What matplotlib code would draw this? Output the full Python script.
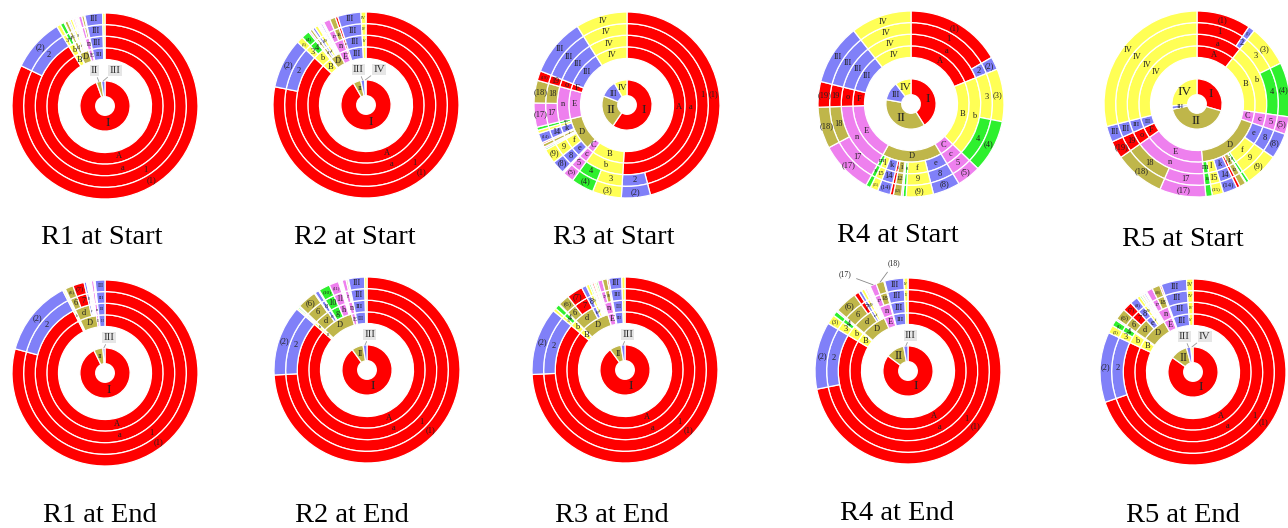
import numpy as np
import matplotlib.pyplot as plt
from matplotlib.patches import Wedge

plt.rcParams["font.family"] = ["Liberation Serif", "DejaVu Serif"]

# hierarchy: every leaf (ring 3/4) with its parents in ring 1 and ring 2
LEAVES = [str(n) for n in range(1, 20)] + ["III", "IV"]
OUTER = [f"({n})" for n in range(1, 20)] + ["III", "IV"]
UPPER = ["A", "A", "B", "B", "C", "D", "D", "D", "D", "D", "D", "D", "D",
         "D", "D", "D", "E", "E", "F", "III", "IV"]
LOWER = ["a", "a", "b", "b", "c", "d", "d", "e", "f", "g", "h", "i", "j",
         "k", "l", "m", "n", "n", "o", "III", "IV"]
CORE = ["I", "II", "III", "IV"]

# angular share of each leaf (degrees), same order as LEAVES
r1_start = [294, 33, 2.5, 2.5, 0.5, 2, 0.5, 1, 1.5, 0.5, 1, 0.5, 0.5, 0.5,
            0.5, 0.5, 2, 1.5, 0.5, 11, 1.5]
r2_start = [270, 30, 4, 5, 1, 1.5, 0.5, 1.5, 2, 0.5, 0.5, 0.5, 0.5, 1,
            0.5, 0.5, 4, 3.5, 1.5, 14, 3]
r3_start = [164, 18, 18, 14, 7, 0.5, 0.5, 8, 9, 1, 1, 2, 1, 6, 2, 2,
            15, 14, 6, 36, 32]
r4_start = [60, 8, 33, 33, 15, 0, 0, 17, 17, 2, 1, 5, 2, 8, 5, 3,
            33, 26, 16, 38, 38]
r5_start = [34, 4, 26, 34, 11, 0, 0, 16, 21, 2, 0.5, 4, 2, 9, 7, 4,
            29, 31.5, 11, 10, 104]
r1_end = [280, 47, 1, 0.5, 0.3, 5, 7, 1.5, 0.5, 0.3, 0.3, 0.5, 0.3, 0.5,
          0.3, 0.3, 1.5, 0.5, 0.3, 6, 0]
r2_end = [266, 44, 1, 1, 0.5, 12, 0.5, 2.5, 0.5, 7, 6, 0.5, 0.5, 0.5,
          0.5, 0.3, 2.5, 1, 0.5, 10, 1.5]
r3_end = [265, 42, 2, 3, 0.5, 7, 10, 3, 2, 1, 0.5, 0.5, 1, 0.5, 1, 1,
          3, 3, 1, 8, 2]
r4_end = [258, 42, 6, 3, 1, 14, 3, 2, 2, 0.5, 1, 0.5, 0.5, 0.5, 0.5, 0.5,
          4, 5, 0.5, 12, 2.5]
r5_end = [251, 44, 5, 4, 1, 7, 6, 5, 2, 1, 0.5, 1, 0.5, 1, 0.5, 0.5,
          4, 5, 1, 16, 4]

# inner ring I..IV
r1_start_core = [340, 12, 8, 0]
r2_start_core = [330, 18, 9, 3]
r3_start_core = [214, 77, 39, 30]
r4_start_core = [148, 132, 43, 37]
r5_start_core = [106, 152, 8, 94]
r1_end_core = [334, 21, 5, 0]
r2_end_core = [324, 27, 9, 0]
r3_end_core = [324, 27, 9, 0]
r4_end_core = [307, 43, 10, 0]
r5_end_core = [305, 40, 10, 5]

TITLES = ["R1 at Start", "R2 at Start", "R3 at Start", "R4 at Start", "R5 at Start",
          "R1 at End", "R2 at End", "R3 at End", "R4 at End", "R5 at End"]

RED, BLUE, YELLOW = "#ff0000", "#8080f8", "#ffff55"
GREEN, PINK, OLIVE = "#2ef02e", "#ee80ee", "#bfb64a"
CYCLE = [RED, BLUE, YELLOW, GREEN, PINK, OLIVE]
CORE_COLORS = {"I": RED, "II": OLIVE, "III": BLUE, "IV": YELLOW}

W, H, R, PAD = 1288, 528, 93, 1.3
TXT = "#222222"


def leaf_color(i):
    lab = LEAVES[i]
    if lab in CORE_COLORS:
        return CORE_COLORS[lab]
    return CYCLE[(int(lab) - 1) % 6]


def group_color(names, lab):
    # parent takes the colour of its first child in the fixed hierarchy
    return leaf_color(names.index(lab))


def fit_size(label, width, rm, cap):
    arc = np.radians(width) * rm * R
    return min(cap, arc / (0.5 * 1.389 * max(len(label), 1)))


def wedge(ax, start, end, r_out, width, color):
    ax.add_patch(Wedge((0, 0), r_out, 90 - end, 90 - start, width=width,
                       facecolor=color, edgecolor="white", lw=0.9))


def draw_rings(ax, values, callouts=None):
    callouts = callouts or {}
    for k, names in enumerate([UPPER, LOWER, LEAVES, OUTER]):
        r_in = 0.5 + k * 0.125
        groups = []
        for lab, v in zip(names, values):
            if v <= 0:
                continue
            if groups and groups[-1][0] == lab:
                groups[-1][1] += v
            else:
                groups.append([lab, v])
        total = sum(values)
        pos = 0.0
        for lab, v in groups:
            a0 = pos / total * 360
            a1 = (pos + v) / total * 360
            pos += v
            wedge(ax, a0, a1, r_in + 0.125, 0.125, group_color(names, lab))
            mid = np.radians((a0 + a1) / 2)
            rm = r_in + 0.0625
            if lab in callouts:
                ax.annotate(lab, xy=(np.sin(mid), np.cos(mid)), xytext=callouts[lab],
                            fontsize=5.5, color=TXT, ha="center", va="center",
                            arrowprops=dict(arrowstyle="-", color="#888888", lw=0.6,
                                            shrinkA=2, shrinkB=0))
                continue
            fs = fit_size(lab, a1 - a0, rm, 6)
            if fs >= 2.3:
                ax.text(rm * np.sin(mid), rm * np.cos(mid), lab, fontsize=fs,
                        color=TXT, ha="center", va="center")


def draw_core(ax, values):
    total = sum(values)
    pos = 0.0
    small = []
    for lab, v in zip(CORE, values):
        if v <= 0:
            continue
        a0 = pos / total * 360
        a1 = (pos + v) / total * 360
        pos += v
        wedge(ax, a0, a1, 0.27, 0.17, CORE_COLORS[lab])
        m = (a0 + a1) / 2
        if (a1 - a0) < 15 and (m > 300 or m < 60):
            small.append((lab, m))
            continue
        fs = max(5, fit_size(lab, a1 - a0, 0.185, 9.5))
        mid = np.radians(m)
        ax.text(0.185 * np.sin(mid), 0.185 * np.cos(mid), lab, fontsize=fs,
                color=TXT, ha="center", va="center")
    if small:
        xc = np.mean([0.4 * np.sin(np.radians(m)) for _, m in small]) + 0.06
        n = len(small)
        for i, (lab, m) in enumerate(small):
            x = xc + (i - (n - 1) / 2) * 0.22
            mid = np.radians(m)
            ax.annotate(lab, xy=(0.27 * np.sin(mid), 0.27 * np.cos(mid)),
                        xytext=(x, 0.38), fontsize=8, color="#333333",
                        ha="center", va="center",
                        bbox=dict(boxstyle="square,pad=0.1", fc="#e6e6e6", ec="none"),
                        arrowprops=dict(arrowstyle="-", color="#999999", lw=0.6,
                                        shrinkA=1, shrinkB=0))


panels = [
    (r1_start, r1_start_core, (105, 106), (102, 238), None),
    (r2_start, r2_start_core, (366, 105), (355, 238), None),
    (r3_start, r3_start_core, (627, 105), (614, 238), None),
    (r4_start, r4_start_core, (911, 104), (898, 236), None),
    (r5_start, r5_start_core, (1197, 104), (1183, 240), None),
    (r1_end, r1_end_core, (105, 373), (100, 516), None),
    (r2_end, r2_end_core, (367, 370), (352, 516), None),
    (r3_end, r3_end_core, (625, 370), (612, 516), None),
    (r4_end, r4_end_core, (908, 371), (897, 514), {"(17)": (-0.68, 1.04), "(18)": (-0.15, 1.16)}),
    (r5_end, r5_end_core, (1193, 372), (1183, 516), None),
]

fig = plt.figure(figsize=(W / 100, H / 100), dpi=100)
for (vals, core, (cx, cy), (tx, ty), callouts), title in zip(panels, TITLES):
    ax = fig.add_axes([(cx - PAD * R) / W, (H - cy - PAD * R) / H,
                       2 * PAD * R / W, 2 * PAD * R / H])
    ax.set_xlim(-PAD, PAD)
    ax.set_ylim(-PAD, PAD)
    ax.set_aspect("equal")
    ax.axis("off")
    draw_rings(ax, vals, callouts)
    draw_core(ax, core)
    fig.text(tx / W, 1 - ty / H, title, fontsize=20.5, color="black",
             ha="center", va="center")

fig.savefig("out.png", dpi=100, facecolor="white")
